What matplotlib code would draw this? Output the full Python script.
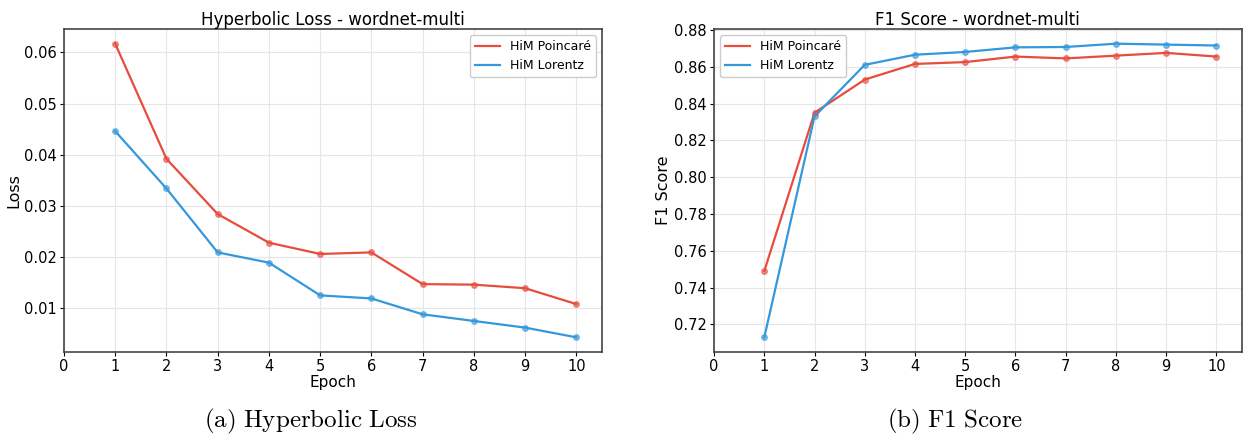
import matplotlib
matplotlib.use("Agg")
import matplotlib.pyplot as plt

# data
epochs = [1, 2, 3, 4, 5, 6, 7, 8, 9, 10]
loss_poincare = [0.0617, 0.0392, 0.0284, 0.0228, 0.0206, 0.0209, 0.0147, 0.0146, 0.0139, 0.0108]
loss_lorentz = [0.0446, 0.0334, 0.0209, 0.0189, 0.0125, 0.0119, 0.0088, 0.0075, 0.0062, 0.0043]
f1_poincare = [0.749, 0.835, 0.853, 0.8615, 0.8625, 0.8655, 0.8645, 0.866, 0.8675, 0.8655]
f1_lorentz = [0.713, 0.833, 0.861, 0.8665, 0.868, 0.8705, 0.8707, 0.8725, 0.872, 0.8715]
xticks = list(range(0, 11))

red = '#e74c3c'
blue = '#3498db'

plt.rcParams['mathtext.fontset'] = 'cm'

fig = plt.figure(figsize=(12.44, 4.34), dpi=100)
ax1 = fig.add_axes([0.0514, 0.1889, 0.4325, 0.7443])
ax2 = fig.add_axes([0.574, 0.1889, 0.424, 0.7443])

def draw(ax, yp, yl, title, ylabel, loc):
    ax.plot(epochs, yp, '-', color=red, lw=1.6, label='HiM Poincaré')
    ax.plot(epochs, yl, '-', color=blue, lw=1.6, label='HiM Lorentz')
    ax.plot(epochs, yp, 'o', color=red, ms=4, alpha=0.6)
    ax.plot(epochs, yl, 'o', color=blue, ms=4, alpha=0.6)
    ax.set_xticks(xticks)
    ax.set_xlim(0, 10.5)
    ax.grid(True, color='#e6e6e6', lw=0.8)
    ax.set_axisbelow(True)
    ax.set_title(title, fontsize=12, pad=3)
    ax.set_xlabel('Epoch', fontsize=11, labelpad=1)
    ax.set_ylabel(ylabel, fontsize=11.5, labelpad=2)
    ax.tick_params(labelsize=10.5, length=3, pad=2)
    for s in ax.spines.values():
        s.set_color('#444444')
        s.set_linewidth(1.2)
    ax.legend(loc=loc, fontsize=9, framealpha=1, edgecolor='#cccccc', handlelength=2)

draw(ax1, loss_poincare, loss_lorentz, 'Hyperbolic Loss - wordnet-multi', 'Loss', 'upper right')
draw(ax2, f1_poincare, f1_lorentz, 'F1 Score - wordnet-multi', 'F1 Score', 'upper left')

fig.text(0.250, 0.028, r'$\mathrm{(a)\ Hyperbolic\ Loss}$', ha='center', va='center', fontsize=18)
fig.text(0.768, 0.028, r'$\mathrm{(b)\ F1\ Score}$', ha='center', va='center', fontsize=18)

fig.savefig('out.png', dpi=100)
